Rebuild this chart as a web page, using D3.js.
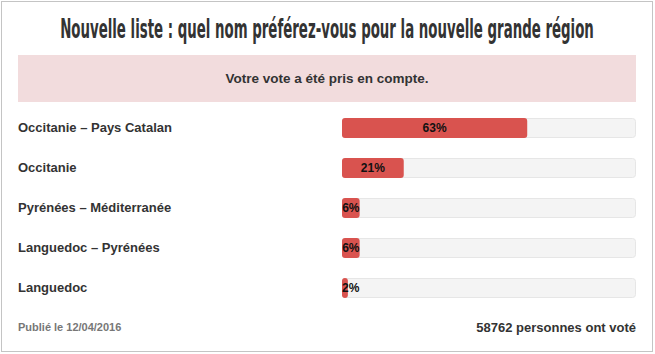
<!DOCTYPE html>
<html>
<head>
<meta charset="utf-8">
<script src="https://cdn.jsdelivr.net/npm/d3@7"></script>
<style>
  body { margin: 0; background: #fff; }
  svg { display: block; font-family: "Liberation Sans", Arial, sans-serif; }
</style>
</head>
<body>
<svg width="655" height="354"></svg>
<script>
var categories = ["Occitanie – Pays Catalan", "Occitanie", "Pyrénées – Méditerranée", "Languedoc – Pyrénées", "Languedoc"];
var percents = [63, 21, 6, 6, 2];
var totalVotes = 58762;
var published = "12/04/2016";

var svg = d3.select("svg"),
    width = +svg.attr("width"),
    height = +svg.attr("height");

// outer frame
svg.append("rect")
    .attr("x", 1.5).attr("y", 1.5)
    .attr("width", width - 4).attr("height", height - 4)
    .attr("fill", "#fff")
    .attr("stroke", "#c4c4c4");

// title: no condensed font installed, so squeeze horizontally to the reference width
var title = svg.append("text")
    .attr("text-anchor", "middle")
    .style("font-family", "'DejaVu Sans Condensed', 'Liberation Sans', sans-serif")
    .style("font-stretch", "condensed")
    .style("font-weight", "bold")
    .style("font-size", "26px")
    .style("fill", "#333")
    .text("Nouvelle liste : quel nom préférez-vous pour la nouvelle grande région");
var tw = title.node().getComputedTextLength();
title.attr("transform", "translate(327,37.5) scale(" + (534 / tw) + ",1)");

// confirmation box
svg.append("rect")
    .attr("x", 18).attr("y", 55)
    .attr("width", 618).attr("height", 47)
    .attr("fill", "#f2dcdd");

svg.append("text")
    .attr("x", 327).attr("y", 78)
    .attr("dy", ".35em")
    .attr("text-anchor", "middle")
    .style("font-size", "13.5px")
    .style("font-weight", "bold")
    .style("fill", "#333")
    .text("Votre vote a été pris en compte.");

// scales
var x = d3.scaleLinear().domain([0, 100]).range([342, 636]),
    y = d3.scaleBand().domain(categories).range([108, 308]).paddingInner(0.5).paddingOuter(0.25);

var data = categories.map(function(c, i) { return {name: c, pct: percents[i]}; });

var row = svg.selectAll(".row")
    .data(data)
  .enter().append("g")
    .attr("class", "row")
    .attr("transform", function(d) { return "translate(0," + y(d.name) + ")"; });

// category labels
row.append("text")
    .attr("x", 18)
    .attr("y", y.bandwidth() / 2 - 1)
    .attr("dy", ".35em")
    .style("font-size", "13px")
    .style("font-weight", "bold")
    .style("fill", "#333")
    .text(function(d) { return d.name; });

// track
row.append("rect")
    .attr("x", x(0) + 0.5).attr("y", 0.5)
    .attr("width", x(100) - x(0) - 1).attr("height", y.bandwidth() - 1)
    .attr("rx", 3)
    .attr("fill", "#f4f4f4")
    .attr("stroke", "#e6e6e6");

// filled part
row.append("rect")
    .attr("x", x(0)).attr("y", 0)
    .attr("width", function(d) { return x(d.pct) - x(0); })
    .attr("height", y.bandwidth())
    .attr("rx", 3)
    .attr("fill", "#d9534f");

// percent labels, centred in fill but kept inside the track
row.append("text")
    .attr("y", y.bandwidth() / 2)
    .attr("dy", ".35em")
    .attr("text-anchor", "middle")
    .style("font-size", "12px")
    .style("font-weight", "bold")
    .style("fill", "#111")
    .text(function(d) { return d.pct + "%"; })
    .attr("x", function(d) {
      var w = this.getComputedTextLength();
      return Math.max((x(0) + x(d.pct)) / 2, x(0) + w / 2);
    });

// footer
svg.append("text")
    .attr("x", 18).attr("y", 327)
    .attr("dy", ".35em")
    .style("font-size", "11px")
    .style("font-weight", "bold")
    .style("fill", "#777")
    .text("Publié le " + published);

svg.append("text")
    .attr("x", 636).attr("y", 327)
    .attr("dy", ".35em")
    .attr("text-anchor", "end")
    .style("font-size", "13px")
    .style("font-weight", "bold")
    .style("fill", "#333")
    .text(totalVotes + " personnes ont voté");
</script>
</body>
</html>
